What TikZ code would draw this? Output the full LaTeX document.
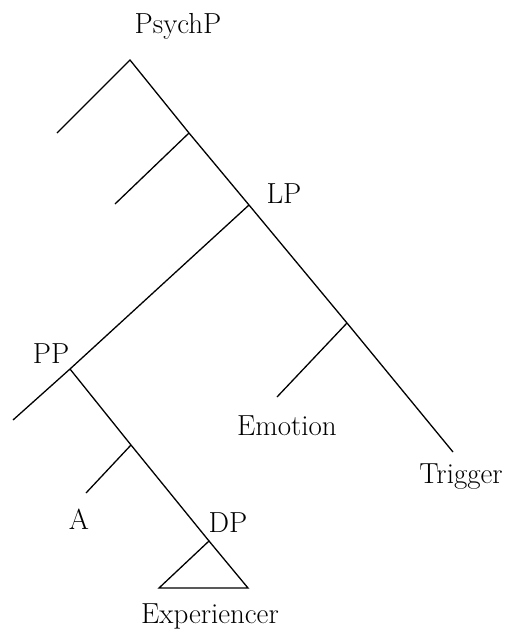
\documentclass[tikz,border=0pt]{standalone}
\usepackage{fontspec}
\usepackage{tikz}
\usetikzlibrary{positioning}

\begin{document}
\begin{tikzpicture}[
        x=1pt, y=-1pt,
        font=\fontsize{29}{34}\selectfont,
        branch/.style={draw, line width=1.3pt, line join=miter},
        lbl/.style={inner sep=0pt, anchor=base}
    ]
        \useasboundingbox (0,0) rectangle (508,632);

        % tree junctions and leaf ends
        \coordinate (root) at (130,60);
        \coordinate (specEnd) at (57,133);
        \coordinate (barOne) at (189,133);
        \coordinate (barOneEnd) at (115,204);
        \coordinate (lp) at (249,205);
        \coordinate (ppEnd) at (13,420);
        \coordinate (pp) at (70,369);
        \coordinate (barTwo) at (347,323);
        \coordinate (emotionEnd) at (277,397);
        \coordinate (triggerEnd) at (453,452);
        \coordinate (barA) at (131,445);
        \coordinate (aEnd) at (86,493);
        \coordinate (dp) at (209,541);
        \coordinate (triLeft) at (159,588);
        \coordinate (triRight) at (248,588);

        % labels
        \node[lbl] (psychp) at (178,33) {PsychP};
        \node[lbl] (lplabel) at (284,203) {LP};
        \node[lbl] (pplabel) at (51,363) {PP};
        \node[lbl] (emotion) at (287,435) {Emotion};
        \node[lbl] (trigger) at (461,483) {Trigger};
        \node[lbl] (alabel) at (79,529) {A};
        \node[lbl] (dplabel) at (228,532) {DP};
        \node[lbl] (experiencer) at (210,623) {Experiencer};

        \path[branch] (specEnd) -- (root) -- (barOne) -- (lp) -- (barTwo) -- (triggerEnd);
        \path[branch] (barOne) -- (barOneEnd);
        \path[branch] (lp) -- (pp) -- (ppEnd);
        \path[branch] (barTwo) -- (emotionEnd);
        \path[branch] (pp) -- (barA) -- (dp);
        \path[branch] (barA) -- (aEnd);
        % triangle under DP
        \path[branch] (dp) -- (triRight) -- (triLeft) -- cycle;
    \end{tikzpicture}
\end{document}
